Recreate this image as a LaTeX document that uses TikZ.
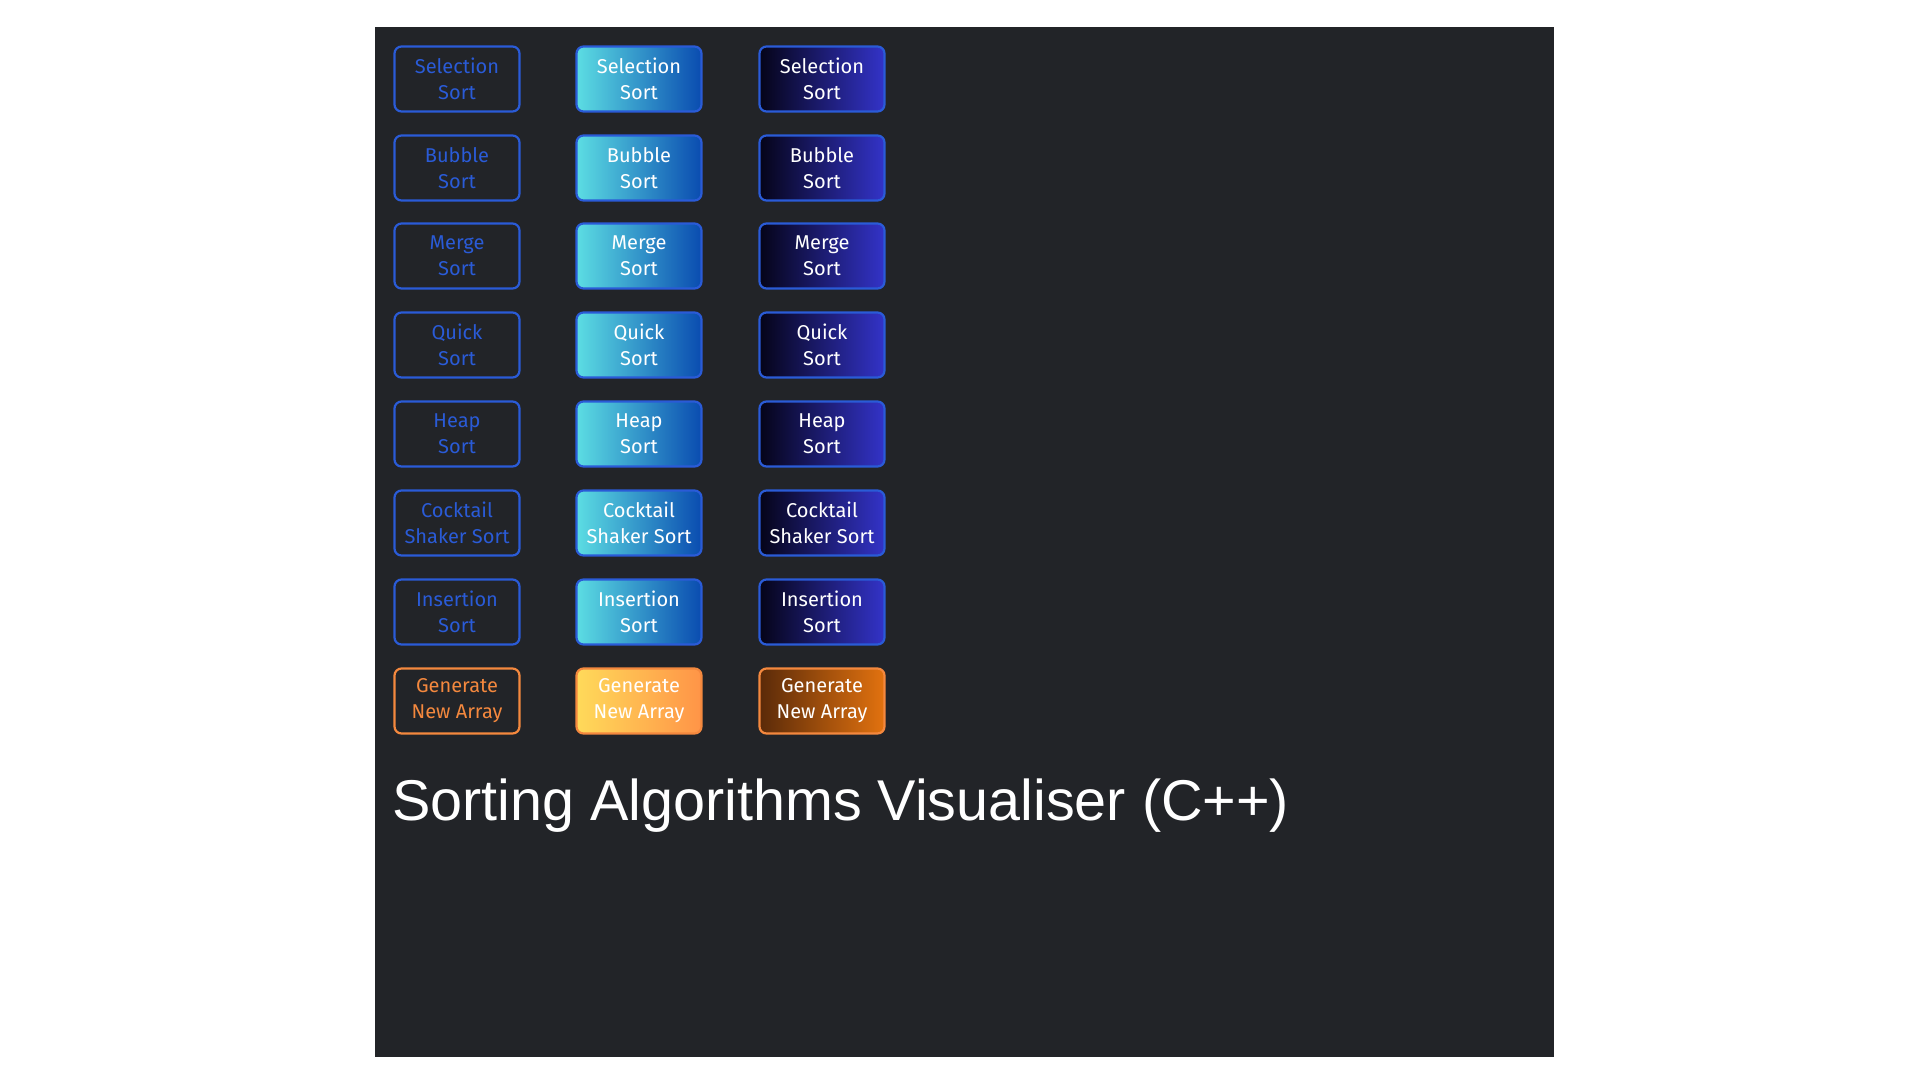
\documentclass[tikz,border=0pt]{standalone}
\usepackage{fontspec}
\setmainfont{Fira Sans}
\newfontfamily\titlefont{Liberation Sans}
\usetikzlibrary{positioning}

\definecolor{panelbg}{HTML}{222428}
\definecolor{btnblue}{HTML}{2A5BD7}
\definecolor{cyanleft}{HTML}{5CDDE3}
\definecolor{blueright}{HTML}{0A4CB0}
\definecolor{inkleft}{HTML}{050418}
\definecolor{indigoright}{HTML}{3333C8}
\definecolor{btnorange}{HTML}{F4883E}
\definecolor{sunleft}{HTML}{FFDA5A}
\definecolor{sunright}{HTML}{FF9447}
\definecolor{rustleft}{HTML}{5A2A09}
\definecolor{rustright}{HTML}{E2720F}

\tikzset{
  button/.style={rectangle,rounded corners=7bp,line width=2.2bp,
    minimum width=125bp,minimum height=65bp,inner sep=0pt,
    align=center,font=\fontsize{20bp}{26bp}\selectfont},
  outlinebtn/.style={button,draw=btnblue,text=btnblue},
  cyanbtn/.style={button,draw=btnblue,left color=cyanleft,right color=blueright,text=white},
  inkbtn/.style={button,draw=btnblue,left color=inkleft,right color=indigoright,text=white},
  orangeline/.style={button,draw=btnorange,text=btnorange},
  sunbtn/.style={button,draw=btnorange,left color=sunleft,right color=sunright,text=white},
  rustbtn/.style={button,draw=btnorange,left color=rustleft,right color=rustright,text=white}
}

\begin{document}
\begin{tikzpicture}[x=1bp,y=-1bp]

        \fill[white] (0,0) rectangle (1920,1080);
        \fill[panelbg] (375,27) rectangle (1554,1057);

        \begin{scope}[every node/.style={outlinebtn}]
          \node (sel1)  at (457,79)  {Selection\\Sort};
          \node (bub1)  at (457,168) {Bubble\\Sort};
          \node (mer1)  at (457,256) {Merge\\Sort};
          \node (qui1)  at (457,345) {Quick\\Sort};
          \node (hea1)  at (457,434) {Heap\\Sort};
          \node (coc1)  at (457,523) {Cocktail\\Shaker Sort};
          \node (ins1)  at (457,612) {Insertion\\Sort};
          \node[orangeline] (gen1) at (457,701) {Generate\\New Array};
        \end{scope}

        \begin{scope}[every node/.style={cyanbtn}]
          \node (sel2)  at (639,79)  {Selection\\Sort};
          \node (bub2)  at (639,168) {Bubble\\Sort};
          \node (mer2)  at (639,256) {Merge\\Sort};
          \node (qui2)  at (639,345) {Quick\\Sort};
          \node (hea2)  at (639,434) {Heap\\Sort};
          \node (coc2)  at (639,523) {Cocktail\\Shaker Sort};
          \node (ins2)  at (639,612) {Insertion\\Sort};
          \node[sunbtn] (gen2) at (639,701) {Generate\\New Array};
        \end{scope}

        \begin{scope}[every node/.style={inkbtn}]
          \node (sel3)  at (822,79)  {Selection\\Sort};
          \node (bub3)  at (822,168) {Bubble\\Sort};
          \node (mer3)  at (822,256) {Merge\\Sort};
          \node (qui3)  at (822,345) {Quick\\Sort};
          \node (hea3)  at (822,434) {Heap\\Sort};
          \node (coc3)  at (822,523) {Cocktail\\Shaker Sort};
          \node (ins3)  at (822,612) {Insertion\\Sort};
          \node[rustbtn] (gen3) at (822,701) {Generate\\New Array};
        \end{scope}

        \node[anchor=base west,text=white,inner sep=0pt,
          font=\titlefont\fontsize{57.5bp}{64bp}\selectfont] (title) at (392,820)
          {Sorting Algorithms Visualiser (C++)};

      \end{tikzpicture}
\end{document}
